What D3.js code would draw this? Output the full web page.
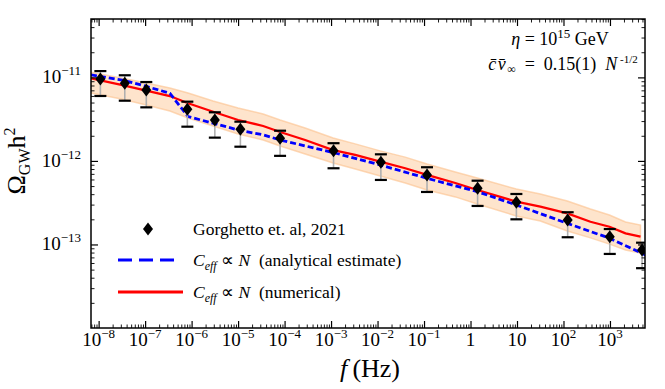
<!DOCTYPE html>
<html>
<head>
<meta charset="utf-8">
<title>Omega_GW spectrum</title>
<style>
body { margin: 0; background: #fff; }
svg text { font-family: "Liberation Serif", "Times New Roman", serif; fill: #000; }
.axis path { display: none; }
.axis line { stroke: #000; }
.major line { stroke-width: 1.2; }
.minor line { stroke-width: 0.9; }
</style>
</head>
<body>
<svg id="chart" width="665" height="389"></svg>
<script src="https://cdn.jsdelivr.net/npm/d3@7/dist/d3.min.js"></script>
<script>
// Gorghetto et al. 2021 points with error bars
var fPts     = [1.09e-8, 3.65e-8, 1.06e-7, 8.1e-7, 3.16e-6, 1.12e-5, 8.0e-5, 1.13e-3, 1.18e-2, 0.116, 1.42, 9.7, 123, 990, 4900];
var omegaPts = [9.57e-12, 8.5e-12, 7.06e-12, 4.15e-12, 3.09e-12, 2.39e-12, 1.87e-12, 1.32e-12, 9.64e-13, 6.79e-13, 4.71e-13, 3.20e-13, 1.96e-13, 1.24e-13, 8.59e-14];
var errHi    = [1.19e-11, 1.06e-11, 8.8e-12, 5.12e-12, 3.82e-12, 2.95e-12, 2.30e-12, 1.63e-12, 1.20e-12, 8.4e-13, 5.8e-13, 4.02e-13, 2.43e-13, 1.53e-13, 1.05e-13];
var errLo    = [5.99e-12, 5.26e-12, 4.38e-12, 2.57e-12, 1.90e-12, 1.48e-12, 1.15e-12, 8.17e-13, 5.92e-13, 4.25e-13, 2.89e-13, 2.0e-13, 1.22e-13, 7.7e-14, 5.2e-14];

// numerical curve and its band
var fRed     = [6.85e-9, 3.08e-8, 1.06e-7, 3.40e-7, 8.41e-7, 2.90e-6, 1.00e-5, 3.46e-5, 8.04e-5, 2.77e-4, 1.11e-3, 3.31e-3, 1.14e-2, 3.94e-2, 0.116, 0.471, 1.40, 9.68, 31.8, 121, 380, 975, 2160, 4540];
var omegaRed = [9.75e-12, 8.11e-12, 6.93e-12, 5.98e-12, 4.90e-12, 3.88e-12, 3.09e-12, 2.62e-12, 2.22e-12, 1.78e-12, 1.35e-12, 1.18e-12, 9.79e-13, 8.17e-13, 6.79e-13, 5.44e-13, 4.49e-13, 3.25e-13, 2.83e-13, 2.36e-13, 1.87e-13, 1.63e-13, 1.36e-13, 1.24e-13];
var bandHi   = [1.15e-11, 9.84e-12, 8.57e-12, 7.47e-12, 6.50e-12, 5.22e-12, 4.31e-12, 3.65e-12, 3.09e-12, 2.48e-12, 1.88e-12, 1.60e-12, 1.32e-12, 1.11e-12, 9.19e-13, 7.37e-13, 6.24e-13, 4.61e-13, 4.02e-13, 3.32e-13, 2.66e-13, 2.25e-13, 1.86e-13, 1.71e-13];
var bandLo   = [6.50e-12, 5.51e-12, 4.68e-12, 3.96e-12, 3.27e-12, 2.62e-12, 2.10e-12, 1.78e-12, 1.51e-12, 1.21e-12, 9.44e-13, 8.02e-13, 6.61e-13, 5.45e-13, 4.49e-13, 3.71e-13, 3.05e-13, 2.19e-13, 1.91e-13, 1.45e-13, 1.20e-13, 1.01e-13, 8.59e-14, 7.91e-14];

// analytical estimate
var fBlue     = [6.85e-9, 3.65e-8, 8.30e-8, 3.40e-7, 8.41e-7, 2.90e-6, 1.00e-5, 3.46e-5, 8.04e-5, 1.11e-3, 1.14e-2, 0.116, 1.40, 9.68, 121, 975, 5800];
var omegaBlue = [1.07e-11, 9.14e-12, 8.11e-12, 6.46e-12, 3.39e-12, 2.83e-12, 2.35e-12, 2.05e-12, 1.78e-12, 1.26e-12, 8.95e-13, 6.19e-13, 4.29e-13, 2.97e-13, 1.79e-13, 1.19e-13, 7.48e-14];

var xMajor = [1e-8, 1e-7, 1e-6, 1e-5, 1e-4, 1e-3, 1e-2, 1e-1, 1, 10, 100, 1000];
var xLabels = ["10|−8", "10|−7", "10|−6", "10|−5", "10|−4", "10|−3", "10|−2", "10|−1", "1|", "10|", "10|2", "10|3"];
var yMajor = [1e-11, 1e-12, 1e-13];
var yLabels = ["10|−11", "10|−12", "10|−13"];

var mLeft = 91, mRight = 645, mTop = 19, mBottom = 328;
var svg = d3.select("#chart");

var x = d3.scaleLog().domain([6.85e-9, 5.67e3]).range([mLeft, mRight]);
var y = d3.scaleLog().domain([1e-14, 5e-11]).range([mBottom, mTop]);

function minors(scale) {
	var d = scale.domain(), out = [];
	for (var e = Math.floor(Math.log10(d[0])); e <= Math.ceil(Math.log10(d[1])); e++) {
		for (var k = 2; k <= 9; k++) {
			var v = k * Math.pow(10, e);
			if (v >= d[0] && v <= d[1]) out.push(v);
		}
	}
	return out;
}

svg.append("defs").append("clipPath").attr("id", "clip")
	.append("rect").attr("x", mLeft).attr("y", mTop).attr("width", mRight - mLeft).attr("height", mBottom - mTop);

var plot = svg.append("g").attr("clip-path", "url(#clip)");

// band
var area = d3.area()
	.x(function(d, i){ return x(fRed[i]); })
	.y0(function(d, i){ return y(bandLo[i]); })
	.y1(function(d, i){ return y(bandHi[i]); });
plot.append("path")
	.datum(fRed)
	.attr("d", area)
	.attr("fill", "#fcbf86")
	.attr("fill-opacity", 0.42)
	.attr("stroke", "#fcc08a")
	.attr("stroke-opacity", 0.6)
	.attr("stroke-width", 1.5);

// curves
var line = d3.line()
	.x(function(d){ return x(d[0]); })
	.y(function(d){ return y(d[1]); });
plot.append("path")
	.datum(d3.zip(fRed, omegaRed))
	.attr("d", line)
	.attr("fill", "none")
	.attr("stroke", "#ff0000")
	.attr("stroke-width", 2.3);
plot.append("path")
	.datum(d3.zip(fBlue, omegaBlue))
	.attr("d", line)
	.attr("fill", "none")
	.attr("stroke", "#0000ff")
	.attr("stroke-width", 2.8)
	.attr("stroke-dasharray", "6,3");

// error bars
var pts = d3.range(fPts.length);
plot.selectAll(".ebar").data(pts).enter().append("line")
	.attr("x1", function(i){ return x(fPts[i]); })
	.attr("x2", function(i){ return x(fPts[i]); })
	.attr("y1", function(i){ return y(errHi[i]); })
	.attr("y2", function(i){ return y(errLo[i]); })
	.attr("stroke", "#b0b0b0")
	.attr("stroke-width", 1.6);
[errHi, errLo].forEach(function(arr){
	plot.selectAll(null).data(pts).enter().append("line")
		.attr("x1", function(i){ return x(fPts[i]) - 6; })
		.attr("x2", function(i){ return x(fPts[i]) + 6; })
		.attr("y1", function(i){ return y(arr[i]); })
		.attr("y2", function(i){ return y(arr[i]); })
		.attr("stroke", "#000")
		.attr("stroke-width", 2.2);
});
var diamond = "M0,-6.5L5,0L0,6.5L-5,0Z";
plot.selectAll(".pt").data(pts).enter().append("path")
	.attr("d", diamond)
	.attr("transform", function(i){ return "translate(" + x(fPts[i]) + "," + y(omegaPts[i]) + ")"; })
	.attr("fill", "#000");

// axes with inward ticks
function addAxis(gen, tx, ty, vals, size, cls) {
	svg.append("g").attr("class", "axis " + cls)
		.attr("transform", "translate(" + tx + "," + ty + ")")
		.call(gen.tickValues(vals).tickSize(-size).tickFormat(""));
}
addAxis(d3.axisBottom(x), 0, mBottom, xMajor, 7, "major");
addAxis(d3.axisBottom(x), 0, mBottom, minors(x), 3.5, "minor");
addAxis(d3.axisTop(x), 0, mTop, xMajor, 7, "major");
addAxis(d3.axisTop(x), 0, mTop, minors(x), 3.5, "minor");
addAxis(d3.axisLeft(y), mLeft, 0, yMajor, 7, "major");
addAxis(d3.axisLeft(y), mLeft, 0, minors(y), 3.5, "minor");
addAxis(d3.axisRight(y), mRight, 0, yMajor, 7, "major");
addAxis(d3.axisRight(y), mRight, 0, minors(y), 3.5, "minor");

svg.append("rect")
	.attr("x", mLeft).attr("y", mTop)
	.attr("width", mRight - mLeft).attr("height", mBottom - mTop)
	.attr("fill", "none").attr("stroke", "#000").attr("stroke-width", 1.5);

// tick labels
xMajor.forEach(function(v, i){
	var p = xLabels[i].split("|");
	var t = svg.append("text")
		.attr("x", x(v)).attr("y", 346)
		.attr("text-anchor", "middle")
		.attr("font-size", 19);
	t.append("tspan").text(p[0]);
	if (p[1]) t.append("tspan").attr("dy", -8).attr("font-size", 13).text(p[1]);
});
yMajor.forEach(function(v, i){
	var p = yLabels[i].split("|");
	var t = svg.append("text")
		.attr("x", 81).attr("y", y(v) + 6)
		.attr("text-anchor", "end")
		.attr("font-size", 19);
	t.append("tspan").text(p[0]);
	t.append("tspan").attr("dy", -8).attr("font-size", 13).text(p[1]);
});

// axis titles
var xt = svg.append("text")
	.attr("x", 370).attr("y", 377)
	.attr("text-anchor", "middle")
	.attr("font-size", 26);
xt.append("tspan").attr("font-style", "italic").text("f");
xt.append("tspan").text("\u2009(Hz)");

var yt = svg.append("text")
	.attr("transform", "translate(25,161) rotate(-90)")
	.attr("text-anchor", "middle")
	.attr("font-size", 26);
yt.append("tspan").text("Ω");
yt.append("tspan").attr("dy", 5).attr("font-size", 16).text("GW");
yt.append("tspan").attr("dy", -5).text("h");
yt.append("tspan").attr("dy", -10).attr("font-size", 16).text("2");

// annotation
var a1 = svg.append("text").attr("x", 560).attr("y", 45).attr("text-anchor", "middle").attr("font-size", 18);
a1.append("tspan").attr("font-style", "italic").text("η");
a1.append("tspan").text(" = 10");
a1.append("tspan").attr("dy", -7).attr("font-size", 13).text("15");
a1.append("tspan").attr("dy", 7).text(" GeV");

var a2 = svg.append("text").attr("x", 563).attr("y", 70).attr("text-anchor", "middle").attr("font-size", 18);
a2.append("tspan").attr("font-style", "italic").attr("letter-spacing", 1.5).text("c\u0304v\u0304");
a2.append("tspan").attr("dy", 3).attr("font-size", 12).text("∞");
a2.append("tspan").attr("dy", -3).text("\u2002=\u20020.15(1)\u2002");
a2.append("tspan").attr("font-style", "italic").text("N");
a2.append("tspan").attr("dy", -7).attr("font-size", 11).text(" -1/2");

// legend
var lg = svg.append("g");
lg.append("path").attr("d", diamond).attr("transform", "translate(148,229)").attr("fill", "#000");
lg.append("text").attr("x", 193).attr("y", 235).attr("font-size", 17.5).text("Gorghetto et. al, 2021");
lg.append("line").attr("x1", 118).attr("x2", 178).attr("y1", 260).attr("y2", 260)
	.attr("stroke", "#0000ff").attr("stroke-width", 3).attr("stroke-dasharray", "14,7");
lg.append("line").attr("x1", 118).attr("x2", 183).attr("y1", 292).attr("y2", 292)
	.attr("stroke", "#ff0000").attr("stroke-width", 3);
["(analytical estimate)", "(numerical)"].forEach(function(s, i){
	var t = lg.append("text").attr("x", 193).attr("y", 266 + i * 32).attr("font-size", 17.5);
	t.append("tspan").attr("font-style", "italic").text("C");
	t.append("tspan").attr("dy", 4).attr("font-size", 12).attr("font-style", "italic").text("eff");
	t.append("tspan").attr("dy", -4).text(" ∝ ");
	t.append("tspan").attr("font-style", "italic").text("N");
	t.append("tspan").text("\u2002" + s);
});
</script>
</body>
</html>
